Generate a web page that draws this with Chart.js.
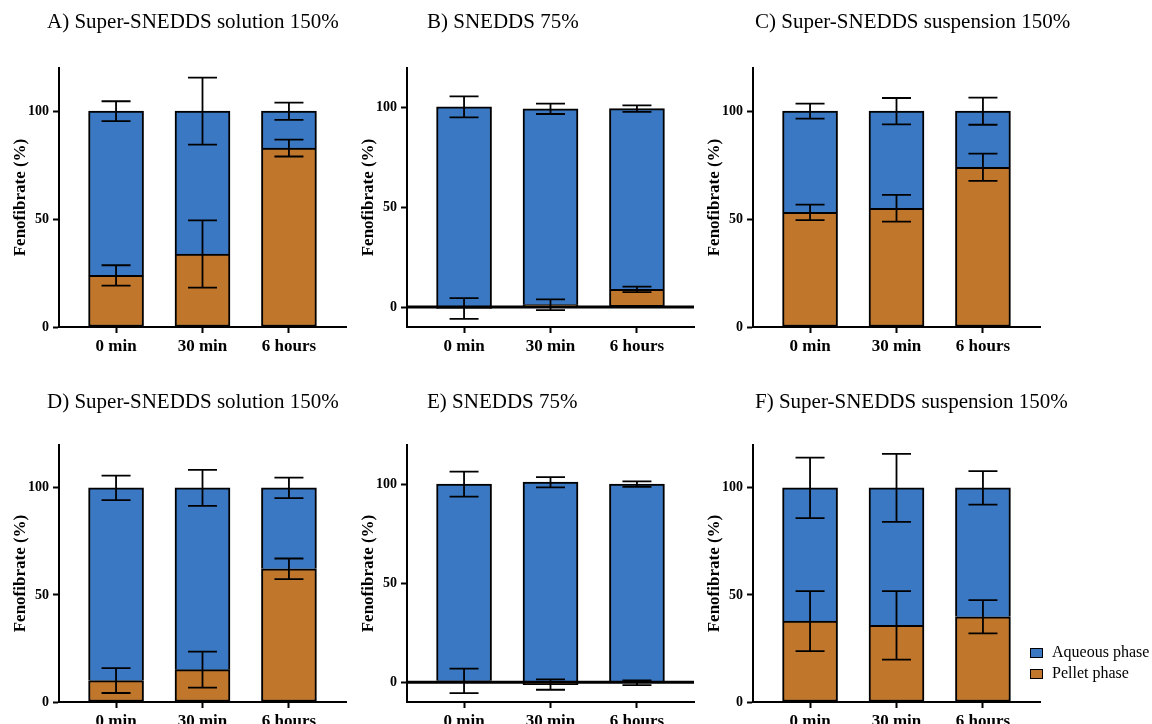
<!DOCTYPE html>
<html>
<head>
<meta charset="utf-8">
<script src="https://cdn.jsdelivr.net/npm/chart.js@4.4.0/dist/chart.umd.min.js"></script>
<style>
body { margin: 0; width: 1152px; height: 724px; overflow: hidden; background: #fff; position: relative; font-family: "Liberation Serif", "Times New Roman", serif; }
.panel { position: absolute; }
.ttl { position: absolute; font-size: 21px; line-height: 24px; white-space: nowrap; color: #000; }
.leg { position: absolute; left: 1030px; font-size: 16px; line-height: 20px; color: #000; white-space: nowrap; }
.leg span.box { display: inline-block; width: 11px; height: 8px; border: 1.5px solid #000; margin-right: 9px; vertical-align: -1px; }
</style>
</head>
<body>

<div class="panel" style="left:0px;top:0px"><canvas id="cA" width="351" height="367"></canvas></div>
<div class="panel" style="left:348px;top:0px"><canvas id="cB" width="351" height="367"></canvas></div>
<div class="panel" style="left:694px;top:0px"><canvas id="cC" width="351" height="367"></canvas></div>
<div class="panel" style="left:0px;top:377px"><canvas id="cD" width="351" height="365"></canvas></div>
<div class="panel" style="left:348px;top:377px"><canvas id="cE" width="351" height="365"></canvas></div>
<div class="panel" style="left:694px;top:377px"><canvas id="cF" width="351" height="365"></canvas></div>

<script>
let categories = ['0 min', '30 min', '6 hours']
let seriesNames = ['Aqueous phase', 'Pellet phase']
let seriesColors = ['#3b78c3', '#c0772b']
let yTicks = [0, 50, 100]

let titles = ['A) Super-SNEDDS solution 150%', 'B) SNEDDS 75%', 'C) Super-SNEDDS suspension 150%',
              'D) Super-SNEDDS solution 150%', 'E) SNEDDS 75%', 'F) Super-SNEDDS suspension 150%']

// A) solution 150%
let pelletA = [23.9, 33.8, 82.9]
let pelletSdA = [4.7, 15.6, 3.9]
let aqueousA = [76.1, 66.2, 17.1]
let aqueousSdA = [4.6, 15.5, 4.0]

// B) SNEDDS 75%
let pelletB = [-0.7, 1.2, 8.9]
let pelletSdB = [5.2, 2.7, 1.4]
let aqueousB = [101.2, 98.3, 90.7]
let aqueousSdB = [5.3, 2.6, 1.6]

// C) suspension 150%
let pelletC = [53.1, 55.0, 74.0]
let pelletSdC = [3.6, 6.2, 6.3]
let aqueousC = [46.9, 45.0, 26.0]
let aqueousSdC = [3.5, 6.1, 6.3]

// D) solution 150%
let pelletD = [10.0, 15.1, 62.2]
let pelletSdD = [5.8, 8.4, 4.8]
let aqueousD = [90.0, 84.9, 37.8]
let aqueousSdD = [5.7, 8.4, 4.8]

// E) SNEDDS 75%
let pelletE = [0.7, -1.2, -0.3]
let pelletSdE = [6.2, 2.6, 1.2]
let aqueousE = [99.5, 102.4, 100.5]
let aqueousSdE = [6.3, 2.6, 1.4]

// F) suspension 150%
let pelletF = [37.8, 35.8, 39.8]
let pelletSdF = [14.0, 16.0, 7.8]
let aqueousF = [62.2, 64.2, 60.2]
let aqueousSdF = [14.1, 15.9, 7.8]

let serif = '"Liberation Serif", "Times New Roman", serif'

// mean +/- SD whiskers at the top of each stacked segment, plus the zero line
let errorBars = {
    id: 'errorBars',
    afterDatasetsDraw(chart) {
        let ctx = chart.ctx
        let y = chart.scales.y
        let area = chart.chartArea
        ctx.save()
        ctx.strokeStyle = '#000'
        if (y.min < 0) {
            let y0 = y.getPixelForValue(0)
            ctx.lineWidth = 3
            ctx.beginPath()
            ctx.moveTo(area.left, y0)
            ctx.lineTo(area.right, y0)
            ctx.stroke()
        }
        ctx.lineWidth = 1.8
        chart.data.datasets.forEach((ds, di) => {
            chart.getDatasetMeta(di).data.forEach((bar, i) => {
                let top = ds.data[i].y[1]
                let sd = ds.errors[i]
                let yHi = y.getPixelForValue(top + sd)
                let yLo = y.getPixelForValue(top - sd)
                ctx.beginPath()
                ctx.moveTo(bar.x, yHi); ctx.lineTo(bar.x, yLo)
                ctx.moveTo(bar.x - 14.5, yHi); ctx.lineTo(bar.x + 14.5, yHi)
                ctx.moveTo(bar.x - 14.5, yLo); ctx.lineTo(bar.x + 14.5, yLo)
                ctx.stroke()
            })
        })
        ctx.restore()
    }
}

function makePanel(id, pellet, pelletSd, aqueous, aqueousSd, yMin, xHeight) {
    let pelletData = pellet.map((p, i) => ({ x: i, y: [0, p] }))
    let aqueousData = aqueous.map((a, i) => ({ x: i, y: [pellet[i], pellet[i] + a] }))
    let axisFont = { family: serif, size: 17, weight: 'bold' }
    return new Chart(document.getElementById(id).getContext('2d'), {
        type: 'bar',
        data: {
            datasets: [
                { label: seriesNames[1], data: pelletData, errors: pelletSd, backgroundColor: seriesColors[1],
                  borderColor: '#000', borderWidth: 2, borderSkipped: false, barThickness: 55, grouped: false },
                { label: seriesNames[0], data: aqueousData, errors: aqueousSd, backgroundColor: seriesColors[0],
                  borderColor: '#000', borderWidth: 2, borderSkipped: 'bottom', barThickness: 55, grouped: false }
            ]
        },
        options: {
            responsive: false,
            animation: false,
            layout: { padding: { top: 68, right: 5, left: 0, bottom: 0 } },
            plugins: { legend: { display: false }, tooltip: { enabled: false } },
            scales: {
                x: {
                    type: 'linear', min: -0.66, max: 2.66, offset: false,
                    afterBuildTicks: s => { s.ticks = categories.map((c, i) => ({ value: i })) },
                    afterFit: s => { s.height = xHeight },
                    ticks: { callback: v => categories[v], color: '#000', font: axisFont, padding: 3, maxRotation: 0, autoSkip: false },
                    grid: { offset: false, drawOnChartArea: false, tickLength: 6, tickColor: '#000', tickWidth: 2 },
                    border: { color: '#000', width: 2 }
                },
                y: {
                    min: yMin, max: 120,
                    afterBuildTicks: s => { s.ticks = yTicks.map(v => ({ value: v })) },
                    afterFit: s => { s.width = 59 },
                    ticks: { color: '#000', font: { family: serif, size: 14, weight: 'bold' }, padding: 4 },
                    grid: { drawOnChartArea: false, tickLength: 6, tickColor: '#000', tickWidth: 2 },
                    border: { color: '#000', width: 2 },
                    title: { display: true, text: 'Fenofibrate (%)', color: '#000', font: axisFont, padding: { top: 10, bottom: 0 } }
                }
            }
        },
        plugins: [errorBars]
    })
}

makePanel('cA', pelletA, pelletSdA, aqueousA, aqueousSdA, 0, 40)
makePanel('cB', pelletB, pelletSdB, aqueousB, aqueousSdB, -10, 40)
makePanel('cC', pelletC, pelletSdC, aqueousC, aqueousSdC, 0, 40)
makePanel('cD', pelletD, pelletSdD, aqueousD, aqueousSdD, 0, 40)
makePanel('cE', pelletE, pelletSdE, aqueousE, aqueousSdE, -10, 40)
makePanel('cF', pelletF, pelletSdF, aqueousF, aqueousSdF, 0, 40)

// panel titles
let titlePos = [[47, 9], [427, 9], [755, 9], [47, 389], [427, 389], [755, 389]]
titles.forEach((t, i) => {
    let d = document.createElement('div')
    d.className = 'ttl'
    d.style.left = titlePos[i][0] + 'px'
    d.style.top = titlePos[i][1] + 'px'
    d.textContent = t
    document.body.appendChild(d)
})

// legend next to panel F
seriesNames.forEach((name, i) => {
    let d = document.createElement('div')
    d.className = 'leg'
    d.style.top = (642 + i * 21) + 'px'
    let box = document.createElement('span')
    box.className = 'box'
    box.style.background = seriesColors[i]
    d.appendChild(box)
    d.appendChild(document.createTextNode(name))
    document.body.appendChild(d)
})
</script>
</body>
</html>
